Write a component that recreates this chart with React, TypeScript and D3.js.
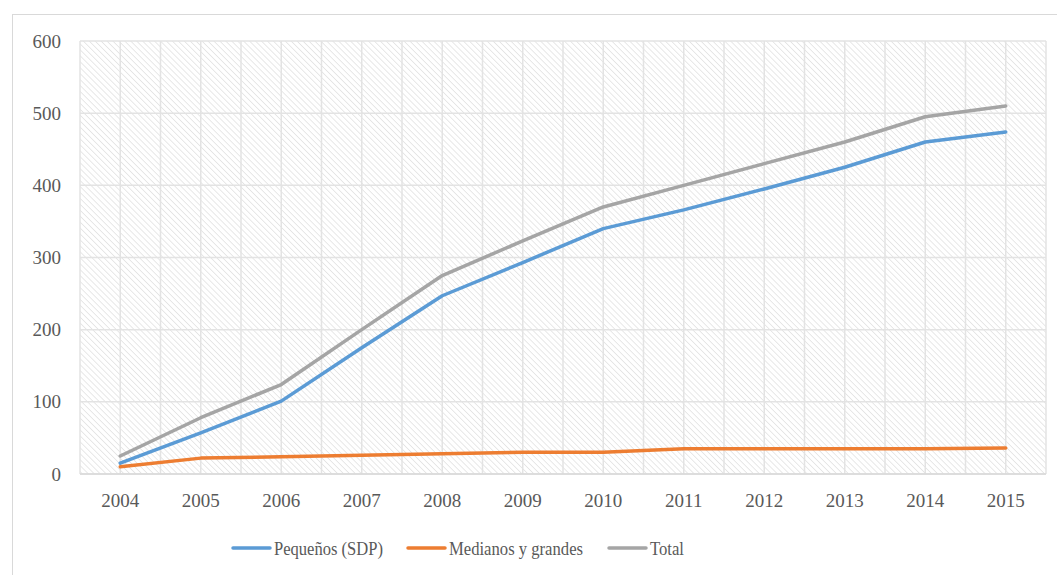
import React from "react";
import * as d3 from "d3";

const years = ["2004","2005","2006","2007","2008","2009","2010","2011","2012","2013","2014","2015"];
const pequenos = [15, 57, 101, 175, 247, 293, 340, 366, 395, 425, 460, 474];
const medianos = [10, 22, 24, 26, 28, 30, 30, 35, 35, 35, 35, 36];
const total = [25, 78, 124, 200, 275, 323, 370, 400, 430, 460, 495, 510];
const yTicks = [0, 100, 200, 300, 400, 500, 600];
const seriesNames = ["Pequeños (SDP)", "Medianos y grandes", "Total"];
const seriesColors = ["#5B9BD5", "#ED7D31", "#A5A5A5"];

export default function App() {
  const W = 1057, H = 575;
  const left = 80, right = 1046, top = 41, bottom = 474;
  const x = d3.scaleBand<string>().domain(years).range([left, right]).padding(0);
  const y = d3.scaleLinear().domain([0, 600]).range([bottom, top]);
  const cx = (d: string) => (x(d) as number) + x.bandwidth() / 2;
  const line = d3.line<number>().x((_, i) => cx(years[i])).y((v) => y(v));
  const data = [pequenos, medianos, total];
  const font = "Liberation Serif, Tinos, Times New Roman, DejaVu Serif, serif";
  const ts = { fontFamily: font, fontSize: "19px" };
  const vLines: number[] = [];
  years.forEach((yr) => { vLines.push(x(yr) as number); vLines.push(cx(yr)); });
  vLines.push(right);
  const legendX = [233, 408, 609];
  const legendW = [109, 134, 34];

  return (
    <svg width={W} height={H} style={{ position: "absolute", left: 0, top: 0, display: "block" }}>
      <defs>
        <pattern id="hatch" patternUnits="userSpaceOnUse" width="4.2" height="4.2" patternTransform="rotate(-45)">
          <rect width="4.2" height="4.2" fill="#ffffff" />
          <line x1="0" y1="0" x2="0" y2="4.2" stroke="#dcdcdc" strokeWidth="1.3" />
        </pattern>
      </defs>
      <rect x={0} y={0} width={W} height={H} fill="#fff" />
      <rect x={12.5} y={14.5} width={1100} height={700} fill="#fff" stroke="#d9d9d9" strokeWidth={1} />
      <rect x={left} y={top} width={right - left} height={bottom - top} fill="url(#hatch)" />
      {yTicks.map((t) => (
        <line key={"h" + t} x1={left} x2={right} y1={y(t)} y2={y(t)} stroke="#e3e3e3" strokeWidth={1.5} />
      ))}
      {vLines.map((v, i) => (
        <line key={"v" + i} x1={v} x2={v} y1={top} y2={bottom} stroke="#e3e3e3" strokeWidth={1.5} />
      ))}
      <line x1={left} x2={right} y1={bottom} y2={bottom} stroke="#d9d9d9" strokeWidth={1.5} />
      {yTicks.map((t) => (
        <text key={"yt" + t} x={61} y={y(t)} dy="0.35em" textAnchor="end" style={ts} fill="#595959">{t}</text>
      ))}
      {years.map((yr) => (
        <text key={"xt" + yr} x={cx(yr)} y={507} textAnchor="middle" style={ts} fill="#595959">{yr}</text>
      ))}
      {data.map((d, i) => (
        <path key={"s" + i} d={line(d) || ""} fill="none" stroke={seriesColors[i]} strokeWidth={3.5} strokeLinejoin="round" strokeLinecap="round" />
      ))}
      {seriesNames.map((n, i) => (
        <g key={"l" + i}>
          <line x1={legendX[i]} x2={legendX[i] + 37} y1={548} y2={548} stroke={seriesColors[i]} strokeWidth={3.5} strokeLinecap="round" />
          <text x={legendX[i] + 41} y={548} dy="0.35em" style={ts} fill="#595959" textLength={legendW[i]} lengthAdjust="spacingAndGlyphs">{n}</text>
        </g>
      ))}
    </svg>
  );
}
